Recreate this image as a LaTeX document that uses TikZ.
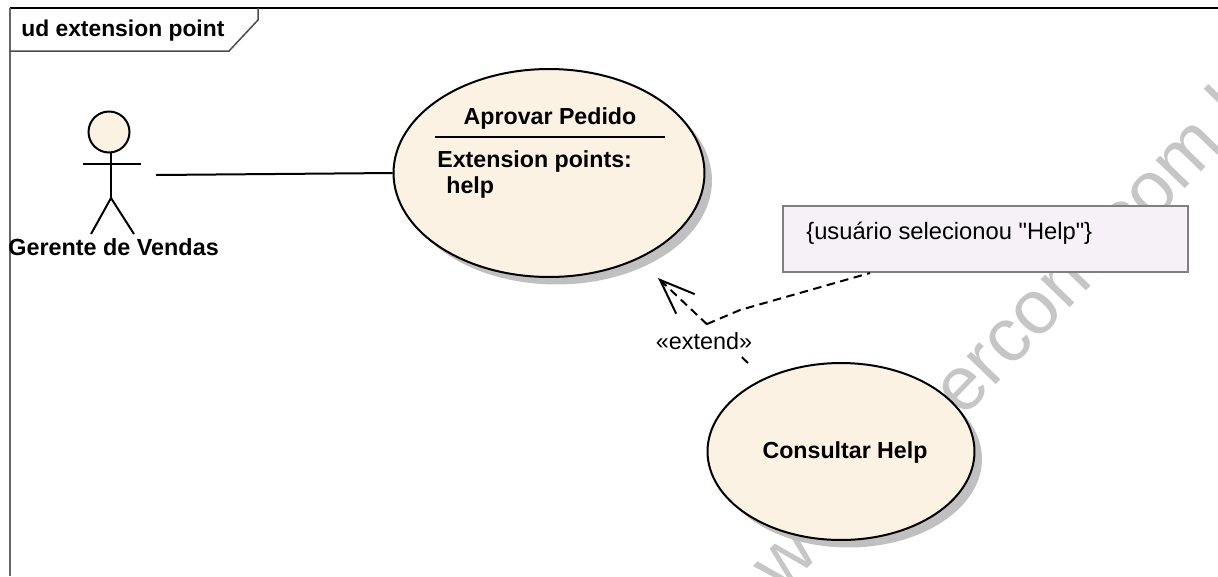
\documentclass[tikz,border=0pt]{standalone}
\usepackage{fontspec}
\setmainfont{Liberation Sans}[Ligatures=TeXOff]
\usepackage{tikz}
\usetikzlibrary{arrows.meta,shadows,shapes.geometric}
\definecolor{usefill}{HTML}{FBF2E4}
\definecolor{notefill}{HTML}{F5F1F6}
\definecolor{shadowgray}{HTML}{C0C0C0}
\definecolor{markgray}{HTML}{C6C6C6}
\tikzset{
	usecase/.style={ellipse, draw, fill=usefill, line width=0.4mm, inner sep=0, general shadow={fill=shadowgray, shadow xshift=0.15cm, shadow yshift=-0.15cm}},
	notebox/.style={rectangle, draw=black!50, fill=notefill, line width=0.4mm, inner sep=0},
	boldlabel/.style={font=\fontsize{13.2}{15}\selectfont\bfseries, inner sep=0},
	plainlabel/.style={font=\fontsize{13.3}{15}\selectfont, inner sep=0},
	watermark/.style={font=\fontsize{43.5}{50}\selectfont, text=markgray, rotate=46, inner sep=0, anchor=base west},
	stick/.style={line width=0.4mm, color=black},
	dashline/.style={line width=0.4mm, dash pattern=on 0.17cm off 0.11cm},
}
\begin{document}
\begin{tikzpicture}[x=0.02cm, y=-0.02cm]
		%%%%% START %%%%%
		
		\useasboundingbox (0, 0) rectangle (1218, 576);
		\clip (0, 0) rectangle (1218, 576);
		
		\node[watermark] (markw) at (782, 595) {w};
		\node[watermark] (markcom) at (963, 419) {ercom.com.br};
		
		\draw[line width=0.35mm, color=black] (10, 8) -- (1218, 8);
		\draw[line width=0.4mm, color=black!60] (10, 8) -- (10, 576);
		\draw[line width=0.3mm, color=black!70] (10, 51) -- (229, 51) -- (258, 20) -- (258, 8);
		\node[boldlabel, font=\fontsize{13}{15}\selectfont\bfseries, anchor=base west] (frametitle) at (21, 36) {ud extension point};
		
		\node[circle, draw, fill=usefill, line width=0.4mm, inner sep=0, minimum size=0.82cm] (head) at (109, 132) {};
		\coordinate (hip) at (111, 198);
		\coordinate (armleft) at (83, 164);
		\coordinate (armright) at (141, 164);
		\coordinate (footleft) at (91, 234);
		\coordinate (footright) at (134, 234);
		\draw[stick] (111, 153) -- (hip);
		\draw[stick] (armleft) -- (armright);
		\draw[stick] (footleft) -- (hip) -- (footright);
		\node[boldlabel, font=\fontsize{13.3}{15}\selectfont\bfseries, anchor=base west] (gerente) at (8, 255) {Gerente de Vendas};
		\coordinate (actorport) at (156, 175);
		
		\node[usecase, minimum width=6.22cm, minimum height=4.16cm] (aprovar) at (549, 173) {};
		\node[boldlabel, anchor=base] (aprovartitle) at (550, 124) {Aprovar Pedido};
		\coordinate (dividerleft) at (435, 137);
		\coordinate (dividerright) at (665, 137);
		\draw[stick] (dividerleft) -- (dividerright);
		\node[boldlabel, anchor=base west] (extpoints) at (437, 167) {Extension points:};
		\node[boldlabel, anchor=base west] (helppoint) at (446, 193) {help};
		
		\draw[line width=0.4mm] (actorport) -- (aprovar.west);
		
		\node[usecase, minimum width=5.34cm, minimum height=3.54cm] (consultar) at (841, 451.5) {};
		\node[boldlabel, anchor=base] (consultartitle) at (845, 458) {Consultar Help};
		
		\node[notebox, minimum width=8.1cm, minimum height=1.32cm] (note) at (985.5, 239) {};
		\node[plainlabel, font=\fontsize{13.5}{15}\selectfont, anchor=base west] (notetext) at (806, 239) {\{usuário selecionou "Help"\}};
		
		\coordinate (extendtip) at (658, 278);
		\coordinate (extendend) at (748, 363);
		\coordinate (notejoin) at (707, 324);
		\coordinate (notebend) at (740, 310);
		\coordinate (noteport) at (870, 273);
		\draw[dashline, -{Straight Barb[length=0.7cm, width=0.54cm]}] (extendend) -- (extendtip);
		\node[plainlabel, fill=white, inner xsep=1pt, inner ysep=4pt, anchor=base] (extendlabel) at (704, 349) {«extend»};
		\draw[dashline] (notejoin) -- (notebend) -- (noteport);
		
		%%%%% END %%%%%
	\end{tikzpicture}
\end{document}
